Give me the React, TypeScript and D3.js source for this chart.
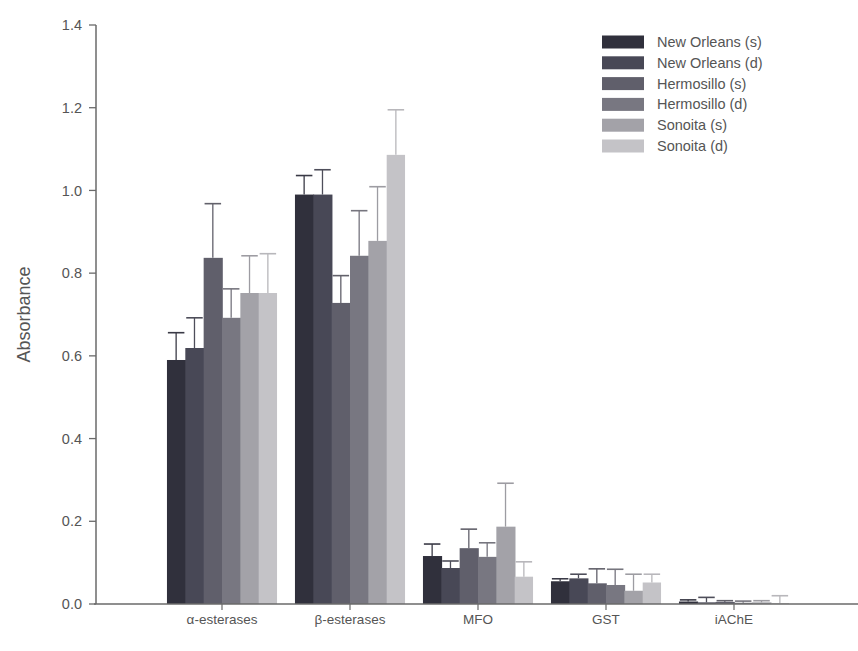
import React from "react";
import * as d3 from "d3";

const categories = ["α-esterases", "β-esterases", "MFO", "GST", "iAChE"];
const seriesNames = [
  "New Orleans (s)",
  "New Orleans (d)",
  "Hermosillo (s)",
  "Hermosillo (d)",
  "Sonoita (s)",
  "Sonoita (d)",
];
// values[series][category]
const newOrleansS = [0.59, 0.99, 0.116, 0.055, 0.006];
const newOrleansD = [0.619, 0.99, 0.087, 0.062, 0.004];
const hermosilloS = [0.837, 0.728, 0.135, 0.05, 0.005];
const hermosilloD = [0.692, 0.842, 0.114, 0.046, 0.003];
const sonoitaS = [0.752, 0.878, 0.187, 0.032, 0.004];
const sonoitaD = [0.752, 1.086, 0.066, 0.052, 0.002];
// error (upper) magnitudes
const newOrleansSErr = [0.066, 0.046, 0.029, 0.006, 0.004];
const newOrleansDErr = [0.073, 0.06, 0.017, 0.01, 0.012];
const hermosilloSErr = [0.131, 0.066, 0.046, 0.035, 0.003];
const hermosilloDErr = [0.07, 0.109, 0.034, 0.038, 0.004];
const sonoitaSErr = [0.09, 0.131, 0.105, 0.04, 0.004];
const sonoitaDErr = [0.095, 0.109, 0.036, 0.02, 0.018];

const yTicks = [0, 0.2, 0.4, 0.6, 0.8, 1.0, 1.2, 1.4];

const values = [newOrleansS, newOrleansD, hermosilloS, hermosilloD, sonoitaS, sonoitaD];
const errors = [newOrleansSErr, newOrleansDErr, hermosilloSErr, hermosilloDErr, sonoitaSErr, sonoitaDErr];
const colors = ["#30303c", "#484856", "#605f6b", "#787781", "#a3a2a8", "#c4c3c7"];
const errColors = ["#3a3a46", "#4e4e5a", "#62616b", "#76757e", "#9d9ca2", "#b8b7bb"];

export default function App() {
  const W = 858;
  const H = 651;
  const x0 = 96;
  const y = d3.scaleLinear().domain([0, 1.4]).range([604, 25]);
  const xCat = d3
    .scaleBand<string>()
    .domain(categories)
    .range([158, 798])
    .paddingInner(0.14)
    .paddingOuter(0.07);
  const xSer = d3
    .scaleBand<string>()
    .domain(seriesNames)
    .range([0, xCat.bandwidth()])
    .padding(0);
  const bw = xSer.bandwidth();
  const font = "'Liberation Sans', Arial, Helvetica, sans-serif";
  const axisColor = "#6a6a6a";
  const textColor = "#555555";

  return (
    <svg
      width={W}
      height={H}
      style={{ position: "absolute", left: 0, top: 0, background: "#fff" }}
      fontFamily={font}
    >
      <rect x={0} y={0} width={W} height={H} fill="#fff" />
      {/* bars */}
      {categories.map((c, ci) => (
        <g key={c} transform={`translate(${xCat(c)},0)`}>
          {seriesNames.map((s, si) => {
            const v = values[si][ci];
            return (
              <rect
                key={s}
                x={xSer(s)!}
                y={y(v)}
                width={bw + (si < seriesNames.length - 1 ? 0.8 : 0)}
                height={y(0) - y(v)}
                fill={colors[si]}
              />
            );
          })}
          {seriesNames.map((s, si) => {
            const v = values[si][ci];
            const e = errors[si][ci];
            const cx = xSer(s)! + bw / 2;
            return (
              <g key={s}>
                <line
                  x1={cx}
                  x2={cx}
                  y1={y(v)}
                  y2={y(v + e)}
                  stroke={errColors[si]}
                  strokeWidth={1.3}
                />
                <line
                  x1={cx - bw * 0.45}
                  x2={cx + bw * 0.45}
                  y1={y(v + e)}
                  y2={y(v + e)}
                  stroke={errColors[si]}
                  strokeWidth={1.6}
                />
              </g>
            );
          })}
        </g>
      ))}
      {/* y axis */}
      <line x1={x0} x2={x0} y1={y(1.4)} y2={y(0)} stroke={axisColor} strokeWidth={1.5} />
      {yTicks.map((t) => (
        <g key={t}>
          <line x1={x0 - 7} x2={x0} y1={y(t)} y2={y(t)} stroke={axisColor} strokeWidth={1.3} />
          <text
            x={x0 - 14}
            y={y(t)}
            dy="0.35em"
            textAnchor="end"
            fontSize={14.5}
            fill={textColor}
          >
            {t.toFixed(1)}
          </text>
        </g>
      ))}
      <text
        transform={`translate(30,${y(0.7)}) rotate(-90)`}
        textAnchor="middle"
        fontSize={18}
        fill={textColor}
      >
        Absorbance
      </text>
      {/* x axis */}
      <line x1={x0 - 2} x2={W} y1={y(0)} y2={y(0)} stroke={axisColor} strokeWidth={1.5} />
      {categories.map((c) => {
        const cx = xCat(c)! + xCat.bandwidth() / 2;
        return (
          <g key={c}>
            <line x1={cx} x2={cx} y1={y(0)} y2={y(0) + 6} stroke={axisColor} strokeWidth={1.2} />
            <text x={cx} y={y(0) + 15} dy="0.35em" textAnchor="middle" fontSize={13.5} fill={textColor}>
              {c}
            </text>
          </g>
        );
      })}
      {/* legend */}
      {seriesNames.map((s, si) => (
        <g key={s} transform={`translate(602,${42 + si * 20.8})`}>
          <rect x={0} y={-6.5} width={42} height={13} fill={colors[si]} />
          <text x={55} y={0} dy="0.35em" fontSize={14.5} fill={textColor}>
            {s}
          </text>
        </g>
      ))}
    </svg>
  );
}
